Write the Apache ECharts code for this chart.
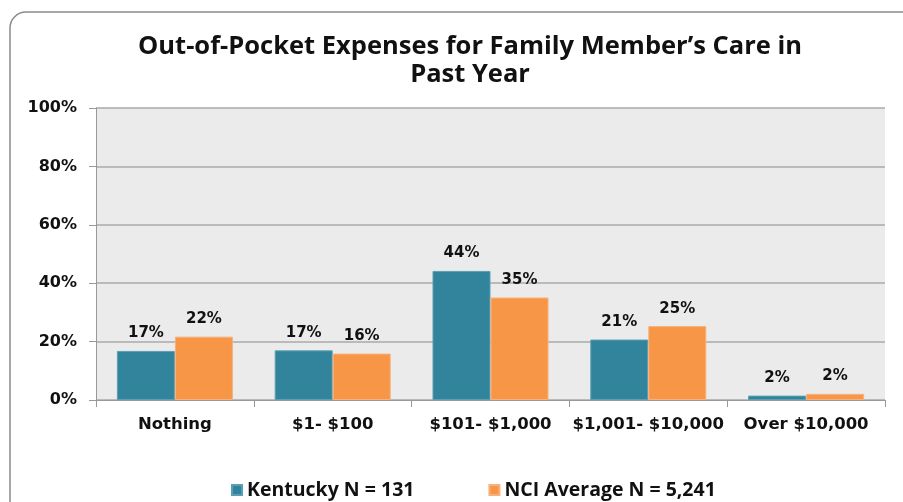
<!DOCTYPE html>
<html>
<head>
<meta charset="utf-8">
<script src="https://cdn.jsdelivr.net/npm/echarts@6/dist/echarts.min.js"></script>
<style>
  html, body {margin: 0; padding: 0; background: #fff;}
  #chart {width: 903px; height: 502px;}
</style>
</head>
<body>
<div id="chart"></div>
<script>
const categories = ['Nothing', '$1- $100', '$101- $1,000', '$1,001- $10,000', 'Over $10,000']
const kentucky = [16.8, 17, 44.2, 20.7, 1.5]
const nciAverage = [21.7, 15.9, 35.1, 25.3, 2.1]
const seriesNames = ['Kentucky N = 131', 'NCI Average N = 5,241']

const chart = echarts.init(document.getElementById('chart'))

const label = {
  show: true,
  position: 'top',
  distance: 10,
  fontFamily: 'DejaVu Sans',
  fontWeight: 'bold',
  fontSize: 15,
  color: '#111',
  formatter: p => Math.round(p.value) + '%'
}

chart.setOption({
  backgroundColor: '#fff',
  animation: false,
  graphic: [{
    type: 'rect',
    shape: {x: 10, y: 12, width: 920, height: 520, r: 16},
    style: {fill: 'none', stroke: '#8a8a8a', lineWidth: 1.5},
    z: -1
  }],
  title: {
    text: 'Out-of-Pocket Expenses for Family Member\u2019s Care in\nPast Year',
    left: 465,
    textAlign: 'center',
    top: 28,
    textStyle: {
      fontFamily: 'Open Sans',
      fontWeight: 'bold',
      fontSize: 25.5,
      lineHeight: 28,
      color: '#111'
    }
  },
  legend: {
    top: 475,
    left: 226,
    itemWidth: 10,
    itemHeight: 10,
    itemGap: 74,
    icon: 'rect',
    textStyle: {fontFamily: 'Open Sans', fontWeight: 'bold', fontSize: 19.5, color: '#111'}
  },
  grid: {left: 96, right: 18, top: 108, bottom: 102},
  xAxis: {
    type: 'category',
    data: categories,
    axisLine: {lineStyle: {color: '#999'}},
    axisTick: {show: true, length: 7, lineStyle: {color: '#999'}},
    axisLabel: {
      interval: 0,
      fontFamily: 'DejaVu Sans', fontWeight: 'bold', fontSize: 16.5, color: '#111', margin: 16
    }
  },
  yAxis: {
    type: 'value',
    min: 0,
    max: 100,
    interval: 20,
    axisLine: {show: true, lineStyle: {color: '#999'}},
    axisTick: {show: true, length: 7, lineStyle: {color: '#999'}},
    splitLine: {lineStyle: {color: '#aaa', width: 1.5}},
    splitArea: {show: true, areaStyle: {color: ['#ebebeb', '#ebebeb']}},
    axisLabel: {
      fontFamily: 'DejaVu Sans', fontWeight: 'bold', fontSize: 16, color: '#111', margin: 19,
      formatter: v => v + '%'
    }
  },
  series: [
    {
      name: seriesNames[0],
      type: 'bar',
      data: kentucky,
      barWidth: 58,
      barGap: '0%',
      itemStyle: {color: '#31849b', borderColor: '#5a9fb3', borderWidth: 1},
      label
    },
    {
      name: seriesNames[1],
      type: 'bar',
      data: nciAverage,
      barWidth: 58,
      barGap: '0%',
      itemStyle: {color: '#f79646', borderColor: '#f9b07a', borderWidth: 1},
      label
    }
  ]
})
</script>
</body>
</html>
